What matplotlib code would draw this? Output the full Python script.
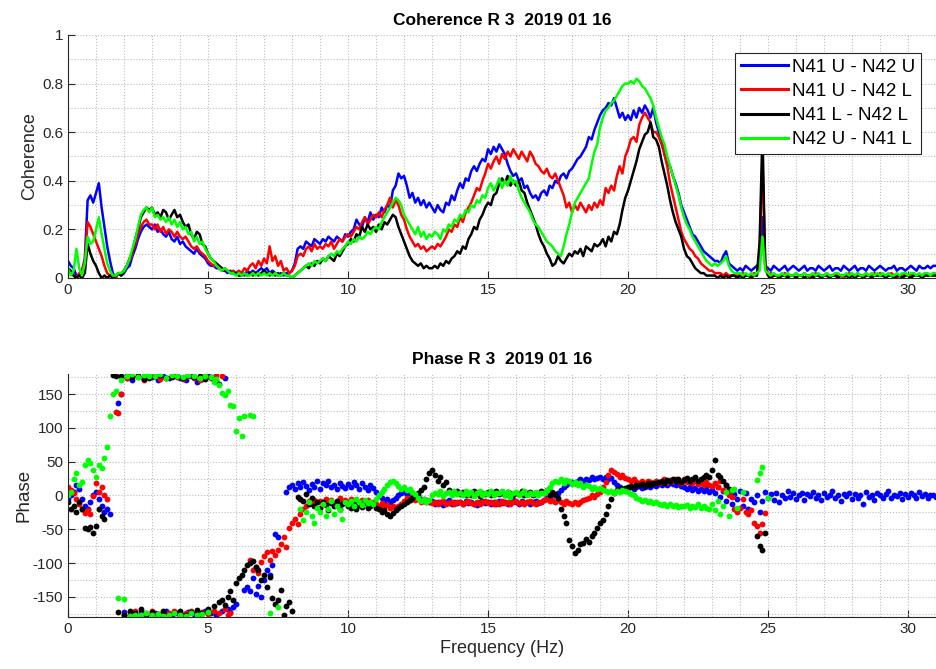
import numpy as np
import matplotlib
matplotlib.use("Agg")
import matplotlib.pyplot as plt
from matplotlib.ticker import MultipleLocator

nan = np.nan

# frequency grid, 0.1 Hz step
freq = np.round(np.arange(311) * 0.1, 1)

labels = ["N41 U - N42 U", "N41 U - N42 L", "N41 L - N42 L", "N42 U - N41 L"]
colors = ["#0000ff", "#ff0000", "#000000", "#00ff00"]

# coherence, one row per Hz (x.0 .. x.9)
coh_uu = [
    .07, .05, .04, .01, .01, .03, .08, .32, .34, .31,
    .35, .39, .29, .21, .13, .07, .02, .00, .02, .01,
    .02, .04, .05, .09, .12, .16, .19, .21, .22, .21,
    .20, .22, .19, .20, .18, .17, .19, .16, .15, .17,
    .14, .15, .13, .12, .11, .10, .12, .10, .09, .08,
    .06, .05, .05, .04, .04, .03, .03, .02, .03, .02,
    .02, .01, .02, .01, .03, .02, .03, .02, .03, .04,
    .03, .04, .02, .03, .02, .01, .02, .01, .02, .02,
    .03, .06, .12, .13, .12, .15, .14, .13, .16, .15,
    .14, .16, .15, .17, .16, .15, .17, .16, .15, .18,
    .17, .19, .20, .24, .22, .21, .25, .23, .27, .24,
    .26, .25, .29, .27, .30, .29, .36, .38, .43, .41,
    .42, .38, .33, .35, .31, .33, .30, .32, .29, .31,
    .29, .27, .30, .28, .27, .31, .30, .34, .32, .36,
    .39, .37, .41, .40, .44, .46, .44, .47, .49, .48,
    .53, .51, .54, .52, .55, .53, .51, .47, .44, .42,
    .43, .40, .41, .37, .38, .35, .33, .34, .32, .35,
    .36, .34, .38, .37, .40, .39, .42, .43, .41, .44,
    .45, .47, .49, .50, .52, .54, .58, .57, .61, .64,
    .67, .69, .70, .72, .71, .74, .70, .66, .68, .65,
    .67, .65, .69, .66, .70, .68, .71, .69, .66, .70,
    .64, .60, .57, .51, .47, .46, .42, .39, .35, .30,
    .27, .24, .21, .18, .17, .15, .13, .11, .10, .09,
    .08, .07, .07, .06, .09, .11, .06, .05, .04, .03,
    .04, .03, .05, .04, .03, .04, .05, .06, .25, .05,
    .04, .03, .05, .04, .03, .04, .05, .03, .04, .05,
    .04, .03, .04, .05, .03, .04, .04, .03, .05, .04,
    .03, .04, .05, .03, .04, .04, .03, .05, .04, .03,
    .04, .05, .03, .04, .04, .03, .05, .04, .03, .04,
    .05, .04, .03, .04, .04, .05, .03, .04, .04, .03,
    .04, .05, .04, .03, .05, .04, .04, .05, .04, .05,
    .05,
]
coh_ul = [
    .03, .02, .01, .00, .02, .03, .07, .23, .21, .18,
    .15, .12, .09, .05, .02, .01, .01, .00, .02, .02,
    .03, .05, .07, .10, .14, .18, .21, .23, .24, .22,
    .22, .20, .22, .19, .21, .18, .20, .19, .17, .19,
    .17, .16, .17, .15, .13, .12, .13, .11, .10, .09,
    .07, .06, .05, .05, .04, .03, .04, .03, .02, .03,
    .02, .03, .02, .04, .03, .05, .06, .04, .07, .05,
    .08, .06, .13, .07, .09, .05, .07, .03, .04, .02,
    .03, .05, .09, .10, .09, .12, .13, .11, .14, .12,
    .13, .12, .14, .13, .15, .12, .14, .16, .15, .17,
    .18, .17, .19, .21, .20, .23, .25, .22, .24, .26,
    .25, .27, .25, .28, .30, .33, .29, .32, .30, .26,
    .24, .20, .17, .15, .13, .14, .12, .13, .11, .12,
    .13, .12, .14, .13, .15, .17, .20, .19, .22, .21,
    .25, .23, .27, .29, .31, .34, .37, .36, .40, .43,
    .47, .45, .48, .50, .47, .51, .49, .52, .50, .53,
    .51, .49, .52, .50, .48, .52, .50, .47, .46, .44,
    .43, .45, .42, .41, .43, .40, .37, .34, .29, .31,
    .27, .30, .28, .31, .29, .27, .30, .28, .31, .29,
    .32, .30, .37, .35, .38, .36, .42, .46, .43, .50,
    .53, .57, .58, .56, .63, .66, .68, .66, .64, .60,
    .60, .58, .55, .51, .46, .39, .34, .29, .24, .19,
    .16, .14, .12, .11, .09, .08, .06, .05, .04, .03,
    .03, .02, .02, .02, .01, .02, .01, .01, .01, .01,
    .01, .02, .01, .01, .01, .02, .01, .10, .50, .06,
    .01, .02, .01, .01, .00, .01, .02, .01, .01, .01,
    .02, .01, .01, .02, .01, .00, .01, .02, .01, .01,
    .01, .02, .01, .01, .02, .01, .01, .00, .01, .02,
    .01, .01, .02, .01, .01, .02, .01, .01, .02, .01,
    .02, .01, .01, .01, .02, .01, .00, .01, .01, .02,
    .01, .01, .02, .01, .01, .01, .02, .01, .01, .02,
    .01,
]
coh_ll = [
    .04, .03, .01, .00, .01, .00, .02, .14, .10, .07,
    .05, .02, .00, .01, .00, .01, .00, .01, .02, .01,
    .03, .05, .08, .11, .16, .20, .25, .27, .29, .28,
    .29, .26, .27, .25, .28, .27, .24, .26, .28, .25,
    .26, .23, .21, .22, .18, .16, .19, .18, .14, .13,
    .10, .08, .07, .06, .05, .04, .03, .03, .02, .02,
    .02, .01, .01, .02, .01, .02, .01, .02, .01, .02,
    .03, .02, .01, .02, .01, .02, .01, .02, .01, .01,
    .00, .01, .02, .03, .04, .05, .04, .06, .05, .07,
    .06, .08, .07, .09, .08, .07, .10, .09, .11, .13,
    .14, .16, .15, .18, .17, .21, .19, .22, .20, .21,
    .19, .22, .20, .23, .22, .24, .26, .25, .21, .18,
    .15, .12, .09, .07, .06, .05, .06, .04, .05, .04,
    .04, .05, .04, .06, .05, .07, .06, .08, .09, .11,
    .10, .13, .12, .16, .18, .21, .20, .24, .26, .29,
    .31, .30, .34, .35, .39, .41, .39, .42, .38, .40,
    .38, .40, .36, .35, .31, .28, .25, .22, .18, .15,
    .13, .10, .08, .05, .06, .09, .07, .06, .08, .10,
    .09, .11, .10, .12, .09, .13, .12, .11, .14, .13,
    .14, .16, .13, .17, .15, .19, .18, .22, .28, .33,
    .36, .40, .44, .48, .53, .56, .59, .60, .64, .58,
    .57, .54, .48, .43, .38, .32, .27, .23, .20, .17,
    .12, .09, .08, .06, .04, .03, .02, .02, .01, .01,
    .01, .01, .00, .01, .00, .01, .00, .01, .01, .00,
    .01, .00, .01, .01, .00, .01, .01, .15, .60, .04,
    .01, .00, .01, .01, .00, .01, .01, .00, .01, .01,
    .00, .01, .01, .00, .01, .01, .00, .01, .01, .00,
    .01, .01, .00, .01, .01, .00, .01, .01, .01, .00,
    .01, .00, .01, .01, .00, .01, .01, .00, .01, .01,
    .01, .01, .00, .01, .01, .00, .01, .01, .00, .01,
    .01, .00, .01, .01, .01, .00, .01, .01, .01, .01,
    .01,
]
coh_lu = [
    .04, .01, .03, .12, .04, .01, .06, .17, .14, .15,
    .20, .25, .18, .12, .06, .03, .01, .01, .02, .02,
    .03, .05, .08, .12, .16, .21, .26, .28, .29, .27,
    .29, .25, .26, .24, .25, .23, .25, .22, .24, .21,
    .23, .20, .21, .18, .19, .15, .17, .14, .15, .12,
    .10, .08, .07, .05, .04, .03, .04, .03, .02, .02,
    .01, .02, .01, .02, .01, .01, .02, .01, .02, .01,
    .02, .01, .02, .01, .02, .01, .01, .02, .01, .01,
    .00, .01, .02, .03, .04, .05, .06, .05, .07, .06,
    .07, .08, .07, .09, .10, .09, .11, .10, .12, .13,
    .15, .14, .16, .15, .17, .16, .17, .19, .18, .20,
    .21, .20, .23, .25, .27, .29, .31, .33, .32, .30,
    .26, .24, .22, .20, .18, .21, .17, .19, .16, .18,
    .17, .19, .18, .16, .20, .19, .22, .21, .24, .23,
    .26, .25, .28, .27, .30, .29, .32, .31, .34, .33,
    .37, .39, .36, .38, .41, .37, .40, .38, .42, .39,
    .40, .36, .33, .31, .29, .27, .24, .22, .21, .19,
    .17, .15, .14, .13, .11, .10, .09, .13, .18, .22,
    .27, .31, .33, .35, .37, .39, .41, .47, .52, .55,
    .62, .66, .69, .70, .72, .73, .75, .77, .79, .80,
    .80, .81, .80, .82, .81, .79, .78, .76, .74, .71,
    .66, .62, .58, .55, .50, .46, .42, .38, .34, .29,
    .25, .22, .20, .17, .15, .13, .11, .09, .07, .06,
    .05, .06, .05, .06, .07, .09, .05, .03, .02, .02,
    .02, .01, .02, .01, .02, .01, .02, .03, .17, .03,
    .02, .01, .02, .01, .01, .02, .01, .02, .01, .01,
    .02, .01, .01, .02, .01, .01, .02, .01, .02, .01,
    .01, .02, .01, .01, .02, .02, .01, .01, .02, .01,
    .02, .01, .02, .01, .01, .02, .01, .02, .01, .02,
    .01, .02, .01, .02, .01, .01, .02, .01, .02, .02,
    .01, .02, .02, .01, .02, .01, .02, .02, .01, .02,
    .02,
]

# phase (deg), same grid; nan where no point is shown
ph_uu = [
    -5, 0, 5, 15, 10, -5, -15, -20, -10, 0,
    5, -5, -15, -25, -20, -28, nan, nan, 137, 150,
    -172, 174, -176, 170, -175, 176, -170, 172, -177, 175,
    175, -174, 171, -178, 176, -171, 173, -176, 178, -173,
    174, -177, 170, -172, 177, -175, 168, -178, 172, -170,
    176, -174, 171, -177, 165, -171, 174, -168, -172, -165,
    -160, nan, nan, -139, -135, -141, -122, -145, -134, -150,
    -125, -110, -118, -102, -57, -62, nan, nan, 5, 12,
    15, 10, 18, 12, 20, 14, 8, 17, 13, 22,
    10, 18, 15, 21, 12, 16, 9, 19, 14, 11,
    17, 12, 20, 15, 10, 18, 13, 8, 15, 11,
    5, 0, -4, -8, -5, -10, -6, -3, 0, 3,
    5, 2, 6, 3, -2, 0, -5, -8, -6, -10,
    -8, -12, -9, -11, -14, -10, -7, -12, -9, -11,
    -10, -13, -8, -11, -9, -12, -14, -10, -8, -11,
    -9, -12, -10, -13, -8, -11, -9, -12, -10, -7,
    -10, -12, -8, -11, -9, -13, -10, -8, -11, -9,
    -6, -3, -1, 2, 0, 4, 8, 12, 15, 18,
    20, 18, 22, 24, 21, 25, 23, 27, 24, 26,
    28, 25, 27, 24, 26, 20, 15, 12, 10, 9,
    11, 13, 10, 12, 14, 11, 13, 15, 12, 16,
    14, 17, 15, 18, 16, 19, 17, 15, 18, 14,
    13, 10, 12, 8, 11, 7, 10, 6, 9, 5,
    8, 3, 12, -2, 6, -8, 4, -12, 2, -5,
    7, -15, 3, -20, -5, -10, 0, -25, -8, 5,
    -3, 2, -6, 4, -10, 1, -4, 6, -2, 3,
    -5, 0, 4, -7, 2, -1, 5, -3, 1, -6,
    3, -2, 0, 6, -4, 1, -8, 2, -1, 4,
    -5, 2, -3, 0, -12, 5, -2, 1, -6, 3,
    0, -4, 2, 6, -3, 1, -1, 4, -5, 2,
    -2, 3, 0, -4, 5, -1, 2, -3, 1, 0,
    -2,
]
ph_ul = [
    13, 8, 3, -5, -12, -20, -26, -22, -28, -1,
    18, 5, 13, 0, -5, nan, nan, 124, 122, 150,
    -176, 173, -172, 177, -170, 175, -178, 171, -174, 176,
    -171, 178, -175, 172, -177, 174, -173, 176, -170, 175,
    -178, 172, -174, 177, -171, 173, -176, 170, -172, 176,
    -175, 174, -170, 178, -173, 177, -168, -176, -174, nan,
    nan, nan, nan, nan, nan, -95, -110, -105, -115, -98,
    -90, -84, -95, -82, -88, -80, -72, -62, -76, -48,
    -40, -35, -42, -28, -20, -15, -8, -12, -6, -10,
    -8, -13, -5, -10, -7, -12, -9, -4, -11, -6,
    -9, -5, -12, -8, -10, -6, -11, -7, -13, -9,
    -12, -15, -11, -17, -14, -19, -16, -20, -15, -12,
    -8, -4, -6, -2, -7, -3, -9, -5, -10, -8,
    -11, -9, -12, -10, -8, -13, -11, -9, -12, -10,
    -9, -12, -10, -8, -11, -13, -9, -12, -10, -8,
    -11, -9, -13, -10, -12, -8, -11, -9, -12, -10,
    -8, -11, -9, -12, -10, -8, -11, -13, -9, -10,
    -7, -5, -8, -6, -9, -7, -10, -12, -8, -11,
    -13, -10, -12, -9, -7, -5, -3, 0, -2, 2,
    5, 13, 20, 30, 38, 35, 32, 28, 30, 26,
    25, 22, 24, 20, 18, 21, 19, 22, 20, 18,
    21, 19, 22, 24, 20, 23, 21, 25, 22, 19,
    24, 20, 22, 18, 21, 17, 19, 15, 20, 16,
    14, 18, 12, 22, 8, 15, 0, -2, -20, -24,
    -18, -5, -25, -28, -22, -40, -45, -55, -42, -26,
]
ph_ll = [
    -10, -20, -15, -25, -10, -20, -48, -50, -47, -55,
    -45, -20, -30, -35, nan, nan, 178, 177, -172, 176,
    -176, 178, -170, 175, -174, 177, -168, 172, -177, 174,
    -172, 176, -175, 178, -170, 173, -177, 175, -173, 177,
    -170, 174, -176, 178, -172, 175, -169, 177, -174, 172,
    -168, 175, -163, 171, -158, -155, -162, -150, -141, -155,
    -130, -122, -117, -110, -103, -100, -97, -105, -110, -125,
    -118, -135, -120, -152, -160, -155, -140, -177, -163, -158,
    -170, nan, -2, -5, -8, 2, -12, -4, -15, -10,
    -18, -9, -14, -22, -11, -16, -8, -20, -13, -10,
    -15, -18, -12, -20, -14, -17, -10, -19, -16, -13,
    -18, -20, -25, -22, -28, -31, -26, -22, -18, -15,
    -12, -10, -6, -3, 0, 4, 8, 12, 25, 33,
    37, 30, 22, 28, 15, 20, 8, 5, 3, 6,
    2, 5, 0, 4, 1, 6, 3, -1, 4, 2,
    5, 1, 3, 6, 2, 4, 0, 5, 3, 1,
    4, 2, 6, 0, 3, 5, 1, 4, 2, 6,
    3, 8, 0, 5, 2, -3, -20, -30, -41, -66,
    -75, -85, -80, -72, -70, -65, -68, -60, -55, -48,
    -40, -36, -27, -15, -5, 3, 8, 10, 9, 11,
    12, 14, 13, 16, 15, 17, 14, 18, 16, 19,
    18, 20, 22, 19, 23, 21, 24, 22, 25, 20,
    23, 26, 21, 24, 27, 22, 25, 28, 30, 27,
    37, 53, 30, 27, 22, 15, 10, nan, nan, nan,
    nan, nan, nan, nan, nan, nan, -60, -75, -80, -56,
]
ph_lu = [
    0, 5, 25, 33, 15, 20, 45, 52, 48, 38,
    28, 45, 40, 55, 72, 117, 150, 155, -152, 170,
    -153, 176, -178, 179, -176, 175, -177, 178, -174, 177,
    -177, 176, -175, 179, -178, 174, -176, 178, -173, 177,
    -176, 175, -178, 178, -174, 176, -177, 173, -175, 177,
    -172, 175, 168, 172, 163, 152, 148, 155, 134, 133,
    95, 115, 88, 117, nan, 119, 117, nan, nan, nan,
    nan, nan, -173, nan, nan, -165, nan, nan, nan, nan,
    nan, nan, nan, -20, -36, -25, -10, -30, -40, -18,
    -25, -12, -30, -20, -8, -28, -15, -22, -35, -10,
    -12, -8, -15, -5, -10, -14, -6, -11, -9, -13,
    -5, 0, 5, 10, 15, 20, 22, 18, 14, 10,
    12, 8, 10, 5, 2, -3, -8, -5, -10, -6,
    0, 4, 2, 6, -1, 3, 5, 1, 7, 2,
    4, 0, 6, 2, 5, -1, 3, 7, 1, 4,
    2, 6, 0, 4, 3, 7, 1, 5, -2, 3,
    5, 1, 4, 6, 0, 3, 2, 5, 1, 4,
    3, 8, 12, 18, 22, 20, 25, 19, 23, 21,
    17, 20, 15, 18, 12, 16, 14, 10, 13, 9,
    11, 8, 7, 5, 6, 4, 7, 5, 8, 6,
    5, 2, 0, -3, -5, -8, -6, -10, -8, -11,
    -10, -12, -14, -12, -15, -13, -16, -14, -17, -15,
    -16, -14, -18, -15, -17, -13, -19, -16, -18, -20,
    -12, -22, -8, -28, -15, 5, -30, 8, 10, -18,
    nan, 5, nan, nan, nan, nan, 23, 33, 42, nan,
    -3,
]

coh = [coh_uu, coh_ul, coh_ll, coh_lu]
phase = [ph_uu, ph_ul, ph_ll, ph_lu]

plt.rcParams["font.family"] = ["Liberation Sans", "DejaVu Sans"]
plt.rcParams["axes.unicode_minus"] = False
tick_col = "#262626"
grid_kw = dict(color="#bdbdbd", linestyle=":", linewidth=0.8)


def style_axes(ax):
    for s in ["top", "right"]:
        ax.spines[s].set_visible(False)
    for s in ["left", "bottom"]:
        ax.spines[s].set_color(tick_col)
        ax.spines[s].set_linewidth(0.8)
    ax.tick_params(which="both", direction="in", colors=tick_col, labelsize=11)
    ax.tick_params(which="major", length=5)
    ax.tick_params(which="minor", length=0)
    ax.xaxis.set_major_locator(MultipleLocator(5))
    ax.xaxis.set_minor_locator(MultipleLocator(1))
    ax.grid(True, which="both", **grid_kw)
    ax.set_axisbelow(True)
    ax.set_xlim(0, 31)


fig = plt.figure(figsize=(9.37, 6.69), dpi=100)

ax1 = fig.add_axes([0.0726, 0.5845, 0.9264, 0.3632])
for y, c, lab in zip(coh, colors, labels):
    ax1.plot(freq, y, color=c, lw=1.8, label=lab)
style_axes(ax1)
ax1.set_ylim(0, 1)
ax1.yaxis.set_minor_locator(MultipleLocator(0.1))
ax1.set_yticks([0, 0.2, 0.4, 0.6, 0.8, 1])
ax1.set_yticklabels(["0", "0.2", "0.4", "0.6", "0.8", "1"])
ax1.set_ylabel("Coherence", fontsize=13, color=tick_col, labelpad=3)
ax1.set_title("Coherence R 3  2019 01 16", fontsize=12.5, fontweight="bold", pad=7)
leg = ax1.legend(loc="upper right", bbox_to_anchor=(0.983, 0.926), borderaxespad=0,
                 fontsize=13.5, frameon=True, fancybox=False, framealpha=1,
                 edgecolor="#262626", handlelength=2.5, handletextpad=0.25,
                 labelspacing=0.38, borderpad=0.3)
leg.get_frame().set_linewidth(0.8)
for ln in leg.get_lines():
    ln.set_linewidth(2.2)

ax2 = fig.add_axes([0.0726, 0.0773, 0.9264, 0.3641])
for y, c in zip(phase, colors):
    ax2.plot(freq[:len(y)], y, linestyle="none", marker="o", ms=4.2,
             mec="none", color=c)
style_axes(ax2)
ax2.set_ylim(-180, 180)
ax2.yaxis.set_major_locator(MultipleLocator(50))
ax2.yaxis.set_minor_locator(MultipleLocator(25))
ax2.set_ylabel("Phase", fontsize=13.5, color=tick_col, labelpad=0)
ax2.set_xlabel("Frequency (Hz)", fontsize=13, color=tick_col, labelpad=3)
ax2.set_title("Phase R 3  2019 01 16", fontsize=12.5, fontweight="bold", pad=7)

fig.savefig("out.png", dpi=100)
